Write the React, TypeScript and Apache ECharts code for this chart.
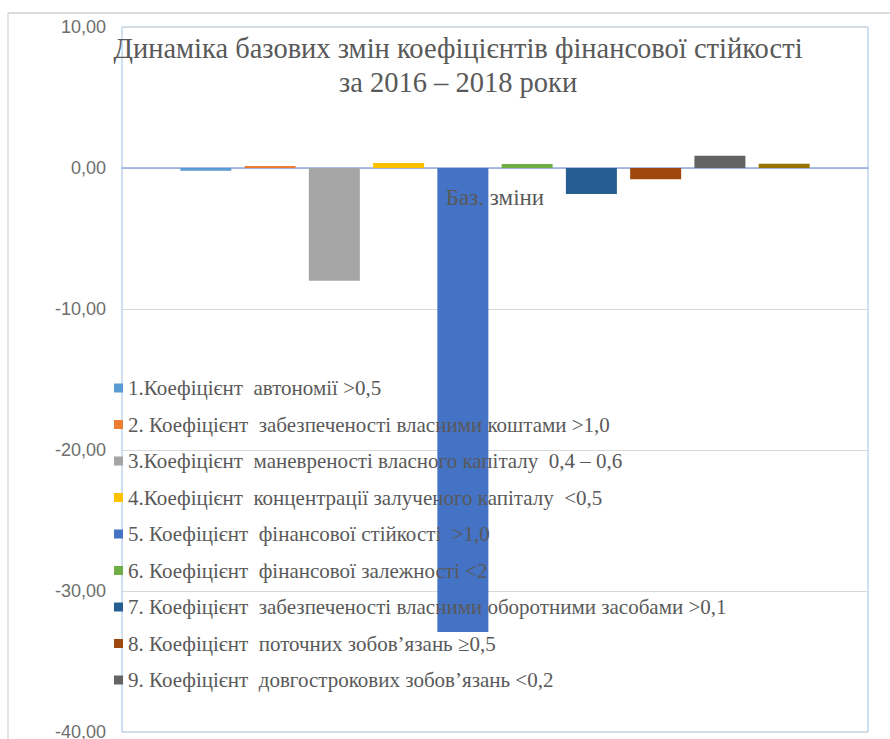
import React, { useEffect, useRef } from "react";
import * as echarts from "echarts";

const categories = ["Баз. зміни"];
const seriesNames = [
  "1.Коефіцієнт  автономії >0,5",
  "2. Коефіцієнт  забезпеченості власними коштами >1,0",
  "3.Коефіцієнт  маневреності власного капіталу  0,4 – 0,6",
  "4.Коефіцієнт  концентрації залученого капіталу  <0,5",
  "5. Коефіцієнт  фінансової стійкості  >1,0",
  "6. Коефіцієнт  фінансової залежності <2",
  "7. Коефіцієнт  забезпеченості власними оборотними засобами >0,1",
  "8. Коефіцієнт  поточних зобов’язань ≥0,5",
  "9. Коефіцієнт  довгострокових зобов’язань <0,2",
  "10.",
];
const seriesValues = [-0.2, 0.15, -8.0, 0.35, -32.9, 0.28, -1.85, -0.8, 0.87, 0.3];
const seriesColors = [
  "#5B9BD5", "#ED7D31", "#A5A5A5", "#FFC000", "#4472C4",
  "#70AD47", "#255E91", "#9E480E", "#636363", "#997300",
];
const legendNames = seriesNames.slice(0, 9);
const titleLines = [
  "Динаміка базових змін коефіцієнтів фінансової стійкості",
  "за 2016 – 2018 роки",
];

const SERIF = "Liberation Serif";

export default function App() {
  const ref = useRef<HTMLDivElement>(null);
  useEffect(() => {
    if (!ref.current) return;
    const chart = echarts.init(ref.current, null, { renderer: "svg" });
    chart.setOption({
      animation: false,
      backgroundColor: "#ffffff",
      grid: {
        left: 122,
        top: 27,
        right: 22,
        bottom: 7,
        show: true,
        borderColor: "#9DC3E6",
        borderWidth: 1,
        containLabel: false,
        outerBoundsMode: "none",
      },
      legend: {
        data: legendNames,
        orient: "vertical",
        left: 109,
        top: 372,
        itemWidth: 9,
        itemHeight: 9,
        itemGap: 14.5,
        itemTextGap: 6,
        icon: "rect",
        z: 6,
        textStyle: {
          fontFamily: SERIF,
          fontSize: 21,
          lineHeight: 22,
          color: "#595959",
        },
      },
      xAxis: {
        type: "category",
        data: categories,
        axisLine: { onZero: true, lineStyle: { color: "#8FAADC", width: 1.5 } },
        axisTick: { show: false },
        axisLabel: { show: false },
        splitLine: { show: false },
      },
      yAxis: {
        type: "value",
        min: -40,
        max: 10,
        interval: 10,
        axisLine: { show: false },
        axisTick: { show: false },
        axisLabel: {
          fontFamily: "Liberation Sans",
          fontSize: 18,
          color: "#6E6E6E",
          margin: 16,
          formatter: (v: number) => v.toFixed(2).replace(".", ","),
        },
        splitLine: { show: true, lineStyle: { color: "#D9D9D9", width: 1 } },
      },
      series: seriesNames.map((name, i) => ({
        name,
        type: "bar",
        data: [seriesValues[i]],
        barWidth: 51,
        barGap: "26%",
        z: 2,
        itemStyle: { color: seriesColors[i] },
      })),
    });
    const cx = chart.convertToPixel({ xAxisIndex: 0 }, categories[0]) as number;
    const zeroY = chart.convertToPixel({ yAxisIndex: 0 }, 0) as number;
    chart.setOption({
      graphic: [
        {
          type: "line",
          shape: { x1: 8, y1: 13, x2: 890, y2: 13 },
          style: { stroke: "#DCDCDC", lineWidth: 2 },
          z: 10,
        },
        {
          type: "line",
          shape: { x1: 8, y1: 13, x2: 8, y2: 739 },
          style: { stroke: "#DCDCDC", lineWidth: 1.5 },
          z: 10,
        },
        {
          type: "text",
          x: 458,
          y: 48,
          style: {
            text: titleLines[0],
            fontFamily: SERIF,
            fontSize: 28.5,
            fill: "#595959",
            textAlign: "center",
            textVerticalAlign: "middle",
          },
          z: 10,
        },
        {
          type: "text",
          x: 458,
          y: 82,
          style: {
            text: titleLines[1],
            fontFamily: SERIF,
            fontSize: 28.5,
            fill: "#595959",
            textAlign: "center",
            textVerticalAlign: "middle",
          },
          z: 10,
        },
        {
          type: "text",
          x: cx,
          y: zeroY + 29,
          style: {
            text: categories[0],
            fontFamily: SERIF,
            fontSize: 23,
            fill: "#595959",
            textAlign: "center",
            textVerticalAlign: "middle",
          },
          z: 10,
        },
      ],
    });
    return () => chart.dispose();
  }, []);
  return (
    <div
      ref={ref}
      style={{ position: "absolute", left: 0, top: 0, width: 890, height: 739 }}
    />
  );
}
